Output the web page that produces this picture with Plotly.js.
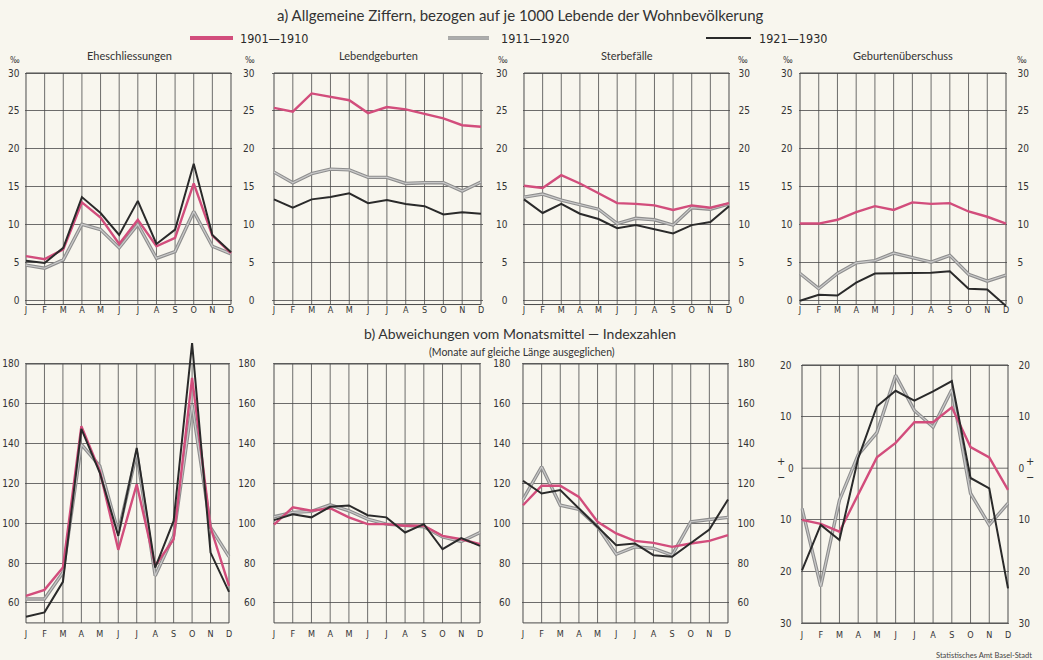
<!DOCTYPE html>
<html>
<head>
<meta charset="utf-8">
<script src="https://cdn.plot.ly/plotly-3.0.1.min.js"></script>
<style>
  html, body { margin: 0; padding: 0; background: #f8f6ee; }
  #chart { width: 1043px; height: 660px; }
</style>
</head>
<body>
<div id="chart"></div>
<script>
// ---------- data ----------
const monthLabels = ['J','F','M','A','M','J','J','A','S','O','N','D'];
const periods = ['1901—1910', '1911—1920', '1921—1930'];

// a) Allgemeine Ziffern (‰ der Wohnbevölkerung)
const marriages1901 = [5.8, 5.4, 6.7, 12.9, 10.9, 7.4, 10.6, 7.1, 8.2, 15.4, 8.5, 6.2];
const marriages1911 = [4.6, 4.2, 5.3, 10.0, 9.3, 6.9, 10.0, 5.5, 6.4, 11.7, 7.1, 6.1];
const marriages1921 = [5.2, 4.9, 6.9, 13.6, 11.5, 8.6, 13.1, 7.4, 9.3, 18.0, 8.6, 6.3];

const births1901 = [25.4, 24.9, 27.3, 26.8, 26.4, 24.7, 25.5, 25.2, 24.6, 24.0, 23.1, 22.9];
const births1911 = [16.9, 15.5, 16.7, 17.3, 17.2, 16.2, 16.2, 15.4, 15.5, 15.5, 14.4, 15.6];
const births1921 = [13.3, 12.2, 13.3, 13.6, 14.1, 12.8, 13.2, 12.7, 12.4, 11.3, 11.6, 11.4];

const deaths1901 = [15.1, 14.8, 16.5, 15.4, 14.1, 12.8, 12.7, 12.5, 11.9, 12.5, 12.2, 12.8];
const deaths1911 = [13.6, 14.0, 13.2, 12.6, 12.0, 10.1, 10.8, 10.6, 9.9, 12.2, 12.0, 12.7];
const deaths1921 = [13.3, 11.5, 12.7, 11.4, 10.7, 9.5, 9.9, 9.3, 8.8, 9.9, 10.3, 12.4];

const surplus1901 = [10.1, 10.1, 10.6, 11.6, 12.4, 11.9, 12.9, 12.7, 12.8, 11.7, 11.0, 10.1];
const surplus1911 = [3.5, 1.5, 3.5, 4.9, 5.2, 6.2, 5.6, 5.0, 5.9, 3.4, 2.5, 3.3];
const surplus1921 = [-0.1, 0.7, 0.6, 2.3, 3.5, 3.5, 3.5, 3.6, 3.8, 1.5, 1.4, -0.8];

// b) Abweichungen vom Monatsmittel — Indexzahlen
const marriageIdx1901 = [63.6, 66.6, 77.8, 148.8, 126.2, 86.7, 119.6, 78.7, 92.0, 173.0, 98.0, 68.6];
const marriageIdx1911 = [62.0, 62.0, 75.3, 139.6, 128.7, 95.4, 135.4, 73.7, 93.7, 159.6, 97.9, 83.3];
const marriageIdx1921 = [53.1, 55.3, 70.6, 147.4, 125.4, 93.7, 137.9, 77.8, 101.2, 190.5, 85.3, 65.6];

const birthIdx1901 = [99.3, 108.0, 106.3, 107.6, 103.0, 99.6, 99.6, 98.8, 98.8, 93.7, 92.0, 89.5];
const birthIdx1911 = [103.3, 105.5, 106.0, 109.3, 106.3, 102.1, 99.6, 98.8, 98.3, 93.2, 90.9, 95.4];
const birthIdx1921 = [101.6, 104.6, 103.0, 108.3, 109.0, 104.1, 103.0, 95.4, 99.6, 87.0, 92.6, 88.7];

const deathIdx1901 = [109.1, 118.9, 118.9, 113.3, 100.8, 94.9, 91.2, 90.2, 88.2, 89.9, 91.2, 94.1];
const deathIdx1911 = [112.0, 128.4, 109.1, 107.0, 98.3, 84.5, 88.2, 87.4, 84.0, 100.8, 101.9, 103.0];
const deathIdx1921 = [121.4, 115.0, 116.7, 107.5, 97.9, 89.0, 89.9, 84.0, 83.2, 89.9, 96.9, 112.0];

const surplusIdx1901 = [-10.0, -10.8, -12.3, -5.2, 2.1, 4.9, 8.9, 8.9, 11.8, 4.1, 2.1, -4.2];
const surplusIdx1911 = [-7.8, -22.9, -6.2, 2.6, 6.9, 18.0, 11.2, 8.0, 15.2, -4.9, -11.0, -6.8];
const surplusIdx1921 = [-19.8, -11.0, -13.9, 1.9, 12.0, 15.0, 13.1, 14.9, 16.9, -1.9, -3.9, -23.3];

const rateTicks = [0, 5, 10, 15, 20, 25, 30];
const indexTicks = [60, 80, 100, 120, 140, 160, 180];
const devTicks = [-30, -20, -10, 0, 10, 20];
const devTickText = ['30', '20', '10', '0', '10', '20'];
// left scale of the deviation panel: the "0" is set as a separate label next to the +/− signs
const devTicksLeft = [-30, -20, -10, 10, 20];
const devTickTextLeft = ['30', '20', '10', '10', '20'];

const panelTitles = ['Eheschliessungen', 'Lebendgeburten', 'Sterbefälle', 'Geburtenüberschuss'];

// ---------- layout helpers ----------
const W = 1043, H = 660;
const BG = '#f8f6ee';
const GRID = '#4a4a4a';
const PINK = '#d24d7c';
const GRAY_OUT = '#8e8e8e';
const GRAY_IN = '#c9c9c9';
const BLACK = '#2a2a2a';
const NUM_FONT = 'Liberation Sans Narrow, DejaVu Sans Condensed, Arial Narrow, sans-serif';
const TXT_FONT = 'Lato, Open Sans, DejaVu Sans, sans-serif';

const topRow = {topVal: 30, topPx: 73, botVal: 0, botPx: 300, boxLo: -0.6, boxHi: 30, rLo: -1.0, rHi: 30.4,
                ticks: rateTicks, tickText: null, xStandoff: -5};
const idxRowA = {topVal: 180, topPx: 364, botVal: 60, botPx: 603, boxLo: 50, boxHi: 180, rLo: 48, rHi: 194,
                 ticks: indexTicks, tickText: null, xStandoff: 0};
const idxRowB = {topVal: 180, topPx: 364, botVal: 60, botPx: 603, boxLo: 50, boxHi: 180, rLo: 48, rHi: 182,
                 ticks: indexTicks, tickText: null, xStandoff: 0};
const devRow = {topVal: 20, topPx: 365, botVal: -30, botPx: 623, boxLo: -30, boxHi: 20, rLo: -31, rHi: 21,
                ticks: devTicks, tickText: devTickText, leftTicks: devTicksLeft, leftText: devTickTextLeft,
                xStandoff: 0, zeroLine: true};

const panels = [
  {row: topRow, left: 26,  right: 231, s: [marriages1901, marriages1911, marriages1921], lLen: 2,  rLen: null},
  {row: topRow, left: 274, right: 481, s: [births1901, births1911, births1921], lLen: 15, rLen: null},
  {row: topRow, left: 524, right: 729, s: [deaths1901, deaths1911, deaths1921], lLen: 12, rLen: 5},
  {row: topRow, left: 800, right: 1006, s: [surplus1901, surplus1911, surplus1921], lLen: 3, rLen: 7},
  {row: idxRowA, left: 26, right: 229, s: [marriageIdx1901, marriageIdx1911, marriageIdx1921], lLen: 2, rLen: null},
  {row: idxRowB, left: 274, right: 480, s: [birthIdx1901, birthIdx1911, birthIdx1921], lLen: 14, rLen: null},
  {row: idxRowB, left: 523, right: 728, s: [deathIdx1901, deathIdx1911, deathIdx1921], lLen: 8, rLen: 5},
  {row: devRow, left: 802, right: 1008, s: [surplusIdx1901, surplusIdx1911, surplusIdx1921], lLen: 6, rLen: 6}
];

const xPad = 0.08;
const xs = monthLabels.map((_, i) => i);

const traces = [];
const layout = {
  width: W, height: H,
  margin: {l: 0, r: 0, t: 0, b: 0},
  paper_bgcolor: BG, plot_bgcolor: 'rgba(0,0,0,0)',
  showlegend: false,
  shapes: [], annotations: []
};

let yCount = panels.length;
panels.forEach((p, i) => {
  const n = i + 1;
  const xa = 'x' + n, ya = 'y' + n;
  const xKey = 'xaxis' + (n === 1 ? '' : n), yKey = 'yaxis' + (n === 1 ? '' : n);
  const r = p.row;
  const xppu = (p.right - p.left) / 11;
  const xDom = [(p.left - xPad * xppu) / W, (p.right + xPad * xppu) / W];
  const yppu = (r.botPx - r.topPx) / (r.topVal - r.botVal);
  const pxHi = r.topPx - (r.rHi - r.topVal) * yppu;
  const pxLo = r.botPx + (r.botVal - r.rLo) * yppu;
  const yDom = [1 - pxLo / H, 1 - pxHi / H];

  layout[xKey] = {
    domain: xDom, range: [-xPad, 11 + xPad], anchor: ya,
    tickvals: xs, ticktext: monthLabels, showgrid: false, zeroline: false, showline: false,
    ticks: '', ticklabelstandoff: r.xStandoff,
    tickfont: {family: NUM_FONT, size: 9, color: '#333'}, fixedrange: true
  };
  const yBase = {
    domain: yDom, range: [r.rLo, r.rHi], tickvals: r.ticks.slice(),
    tickfont: {family: NUM_FONT, size: 10, color: '#333'},
    zeroline: false, showline: false, fixedrange: true
  };
  if (r.tickText) { yBase.ticktext = r.tickText.slice(); yBase.tickmode = 'array'; }
  layout[yKey] = Object.assign({}, yBase, {
    anchor: xa, side: 'left', showgrid: true, gridcolor: GRID, gridwidth: 0.8,
    ticks: 'outside', ticklen: p.lLen, tickcolor: 'rgba(0,0,0,0)'
  });
  if (r.leftTicks) {
    layout[yKey].tickvals = r.leftTicks.slice();
    layout[yKey].ticktext = r.leftText.slice();
  }

  // box, vertical month lines (and the zero line of the deviation panel)
  layout.shapes.push({type: 'rect', xref: xa, yref: ya, x0: 0, x1: 11, y0: r.boxLo, y1: r.boxHi,
                      line: {color: GRID, width: 1}, layer: 'below'});
  for (let k = 1; k < 11; k++) {
    layout.shapes.push({type: 'line', xref: xa, yref: ya, x0: k, x1: k, y0: r.boxLo, y1: r.boxHi,
                        line: {color: GRID, width: 0.8}, layer: 'below'});
  }
  if (r.zeroLine) {
    layout.shapes.push({type: 'line', xref: xa, yref: ya, x0: 0, x1: 11, y0: 0, y1: 0,
                        line: {color: GRID, width: 0.8}, layer: 'below'});
  }

  // series: gray (double line), pink, black
  traces.push({x: xs, y: p.s[1], xaxis: xa, yaxis: ya, mode: 'lines', name: periods[1],
               line: {color: GRAY_OUT, width: 3.4}, hoverinfo: 'skip'});
  traces.push({x: xs, y: p.s[1], xaxis: xa, yaxis: ya, mode: 'lines', name: periods[1],
               line: {color: GRAY_IN, width: 1.2}, hoverinfo: 'skip'});
  traces.push({x: xs, y: p.s[0], xaxis: xa, yaxis: ya, mode: 'lines', name: periods[0],
               line: {color: PINK, width: 2.4}, hoverinfo: 'skip'});
  traces.push({x: xs, y: p.s[2], xaxis: xa, yaxis: ya, mode: 'lines', name: periods[2],
               line: {color: BLACK, width: 2.0}, hoverinfo: 'skip'});

  // right-hand scale (mirrored axis) where the original shows one
  if (p.rLen !== null) {
    yCount += 1;
    const yr = 'y' + yCount;
    layout['yaxis' + yCount] = Object.assign({}, yBase, {
      anchor: xa, overlaying: ya, side: 'right', showgrid: false,
      ticks: 'outside', ticklen: p.rLen, tickcolor: 'rgba(0,0,0,0)'
    });
    traces.push({x: xs, y: p.s[2], xaxis: xa, yaxis: yr, mode: 'lines', opacity: 0,
                 line: {width: 0}, hoverinfo: 'skip', name: periods[2]});
  }
});

function ann(text, px, py, size, opts) {
  layout.annotations.push(Object.assign({
    text: text, xref: 'paper', yref: 'paper', x: px / W, y: 1 - py / H,
    xanchor: 'center', yanchor: 'middle', showarrow: false,
    font: {family: TXT_FONT, size: size, color: '#333'}
  }, opts || {}));
}

// titles
ann('a) Allgemeine Ziffern, bezogen auf je 1000 Lebende der Wohnbevölkerung', 520, 15, 15);
ann('b) Abweichungen vom Monatsmittel — Indexzahlen', 520, 333, 14);
ann('(Monate auf gleiche Länge ausgeglichen)', 522, 352, 10.5);
const titleX = [129, 378, 627, 903];
panelTitles.forEach((t, i) => ann(t, titleX[i], 55, 11));

// per-mille markers above the top-row label columns
[15, 250, 503, 743, 788, 1022].forEach(px => ann('‰', px, 60, 8, {font: {family: NUM_FONT, size: 8, color: '#333'}}));

// +0− marks on the deviation panel
ann('0', 791, 468, 10, {font: {family: NUM_FONT, size: 10, color: '#333'}});
ann('+', 781, 461, 11, {font: {family: NUM_FONT, size: 11, color: '#333'}});
ann('−', 781, 477, 11, {font: {family: NUM_FONT, size: 11, color: '#333'}});
ann('+', 1030, 461, 11, {font: {family: NUM_FONT, size: 11, color: '#333'}});
ann('−', 1030, 477, 11, {font: {family: NUM_FONT, size: 11, color: '#333'}});

// legend (samples + labels)
const legendItems = [
  {x0: 190, x1: 233, tx: 238, color: PINK, width: 4},
  {x0: 448, x1: 489, tx: 499, color: GRAY_OUT, width: 3.5, inner: GRAY_IN},
  {x0: 706, x1: 751, tx: 757, color: BLACK, width: 2.2}
];
legendItems.forEach((it, i) => {
  layout.shapes.push({type: 'line', xref: 'paper', yref: 'paper', x0: it.x0 / W, x1: it.x1 / W,
                      y0: 1 - 38 / H, y1: 1 - 38 / H, line: {color: it.color, width: it.width}});
  if (it.inner) {
    layout.shapes.push({type: 'line', xref: 'paper', yref: 'paper', x0: it.x0 / W, x1: it.x1 / W,
                        y0: 1 - 38 / H, y1: 1 - 38 / H, line: {color: it.inner, width: 1.2}});
  }
  ann(periods[i], it.tx, 38, 12, {xanchor: 'left', font: {family: NUM_FONT, size: 12.5, color: '#2a2a2a'}});
});

// source
ann('Statistisches Amt Basel-Stadt', 1034, 655, 8, {xanchor: 'right', font: {family: TXT_FONT, size: 7.5, color: '#444'}});

Plotly.newPlot('chart', traces, layout, {staticPlot: true, displayModeBar: false});
</script>
</body>
</html>
